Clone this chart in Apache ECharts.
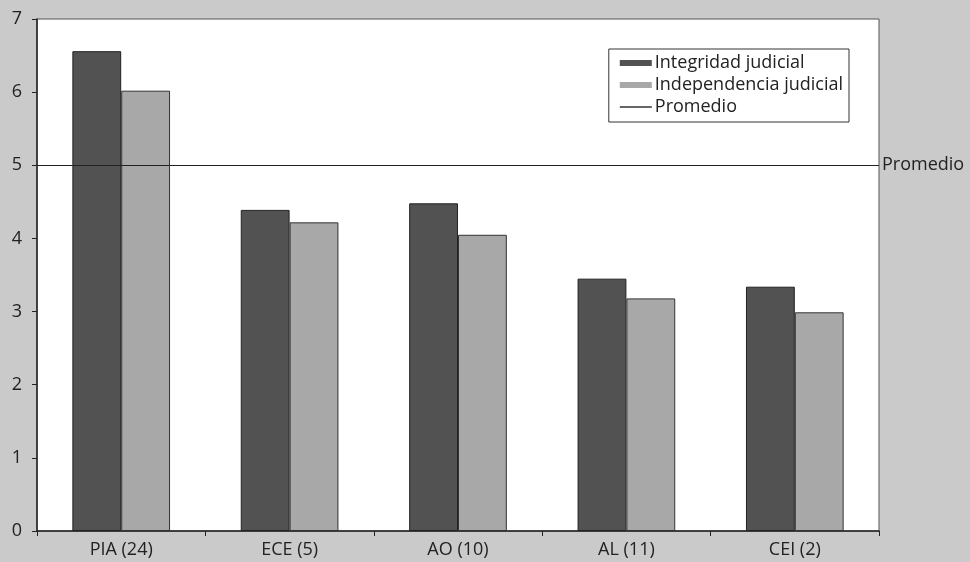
<!DOCTYPE html>
<html><head><meta charset="utf-8">
<script src="https://cdn.jsdelivr.net/npm/echarts@6/dist/echarts.min.js"></script>
<style>html,body{margin:0;padding:0;background:#cacaca;}#c{width:970px;height:562px;}</style>
</head><body><div id="c"></div>
<script>
const categories = ['PIA (24)', 'ECE (5)', 'AO (10)', 'AL (11)', 'CEI (2)'];
const integridad = [6.56, 4.39, 4.48, 3.45, 3.34];
const independencia = [6.02, 4.22, 4.05, 3.18, 2.99];
const promedio = 5;
const yTicks = [0, 1, 2, 3, 4, 5, 6, 7];

const font = 'Open Sans';
const chart = echarts.init(document.getElementById('c'));
chart.setOption({
  backgroundColor: '#cacaca',
  animation: false,
  textStyle: { fontFamily: font },
  grid: { left: 37, right: 91, top: 19, bottom: 31, show: true, backgroundColor: '#ffffff', borderColor: '#555', borderWidth: 1, containLabel: false },
  legend: {
    orient: 'vertical', right: 121, top: 49,
    backgroundColor: '#ffffff', borderColor: '#333', borderWidth: 1,
    padding: [5, 6, 6, 11], itemGap: 4, itemWidth: 32, itemHeight: 6,
    textStyle: { fontSize: 18, color: '#222', fontFamily: font, lineHeight: 18, padding: [0, 0, 0, -2] },
    data: [
      { name: 'Integridad judicial', icon: 'rect', itemStyle: { color: '#525252', borderWidth: 0 } },
      { name: 'Independencia judicial', icon: 'rect', itemStyle: { color: '#a8a8a8', borderWidth: 0 } },
      { name: 'Promedio', icon: 'path://M0,0L100,0L100,4L0,4Z', itemStyle: { color: '#333', borderWidth: 0 } }
    ]
  },
  xAxis: {
    type: 'category', data: categories,
    axisLine: { lineStyle: { color: '#222', width: 1.5 } },
    axisTick: { show: true, alignWithLabel: false, length: 5, lineStyle: { color: '#222' } },
    axisLabel: { fontSize: 18, color: '#222', margin: 10, fontFamily: font }
  },
  yAxis: {
    type: 'value', min: yTicks[0], max: yTicks[yTicks.length - 1], interval: 1,
    axisLine: { show: true, lineStyle: { color: '#222', width: 1.5 } },
    axisTick: { show: true, length: 5, lineStyle: { color: '#222' } },
    splitLine: { show: false },
    axisLabel: { fontSize: 18, color: '#222', margin: 15, fontFamily: font }
  },
  series: [
    { name: 'Integridad judicial', type: 'bar', data: integridad, barGap: '0%', barCategoryGap: '42%',
      itemStyle: { color: '#525252', borderColor: '#222', borderWidth: 1 } },
    { name: 'Independencia judicial', type: 'bar', data: independencia,
      itemStyle: { color: '#a8a8a8', borderColor: '#333', borderWidth: 1 } },
    { name: 'Promedio', type: 'line', data: [], symbol: 'none', color: '#222',
      itemStyle: { color: '#222' },
      lineStyle: { color: '#222', width: 1 },
      markLine: {
        symbol: 'none', silent: true,
        lineStyle: { color: '#222', width: 1.2, type: 'solid' },
        label: { show: true, position: 'end', formatter: 'Promedio', fontSize: 18, color: '#222', fontFamily: font, distance: 3 },
        data: [{ yAxis: promedio }]
      } }
  ]
});
</script></body></html>
